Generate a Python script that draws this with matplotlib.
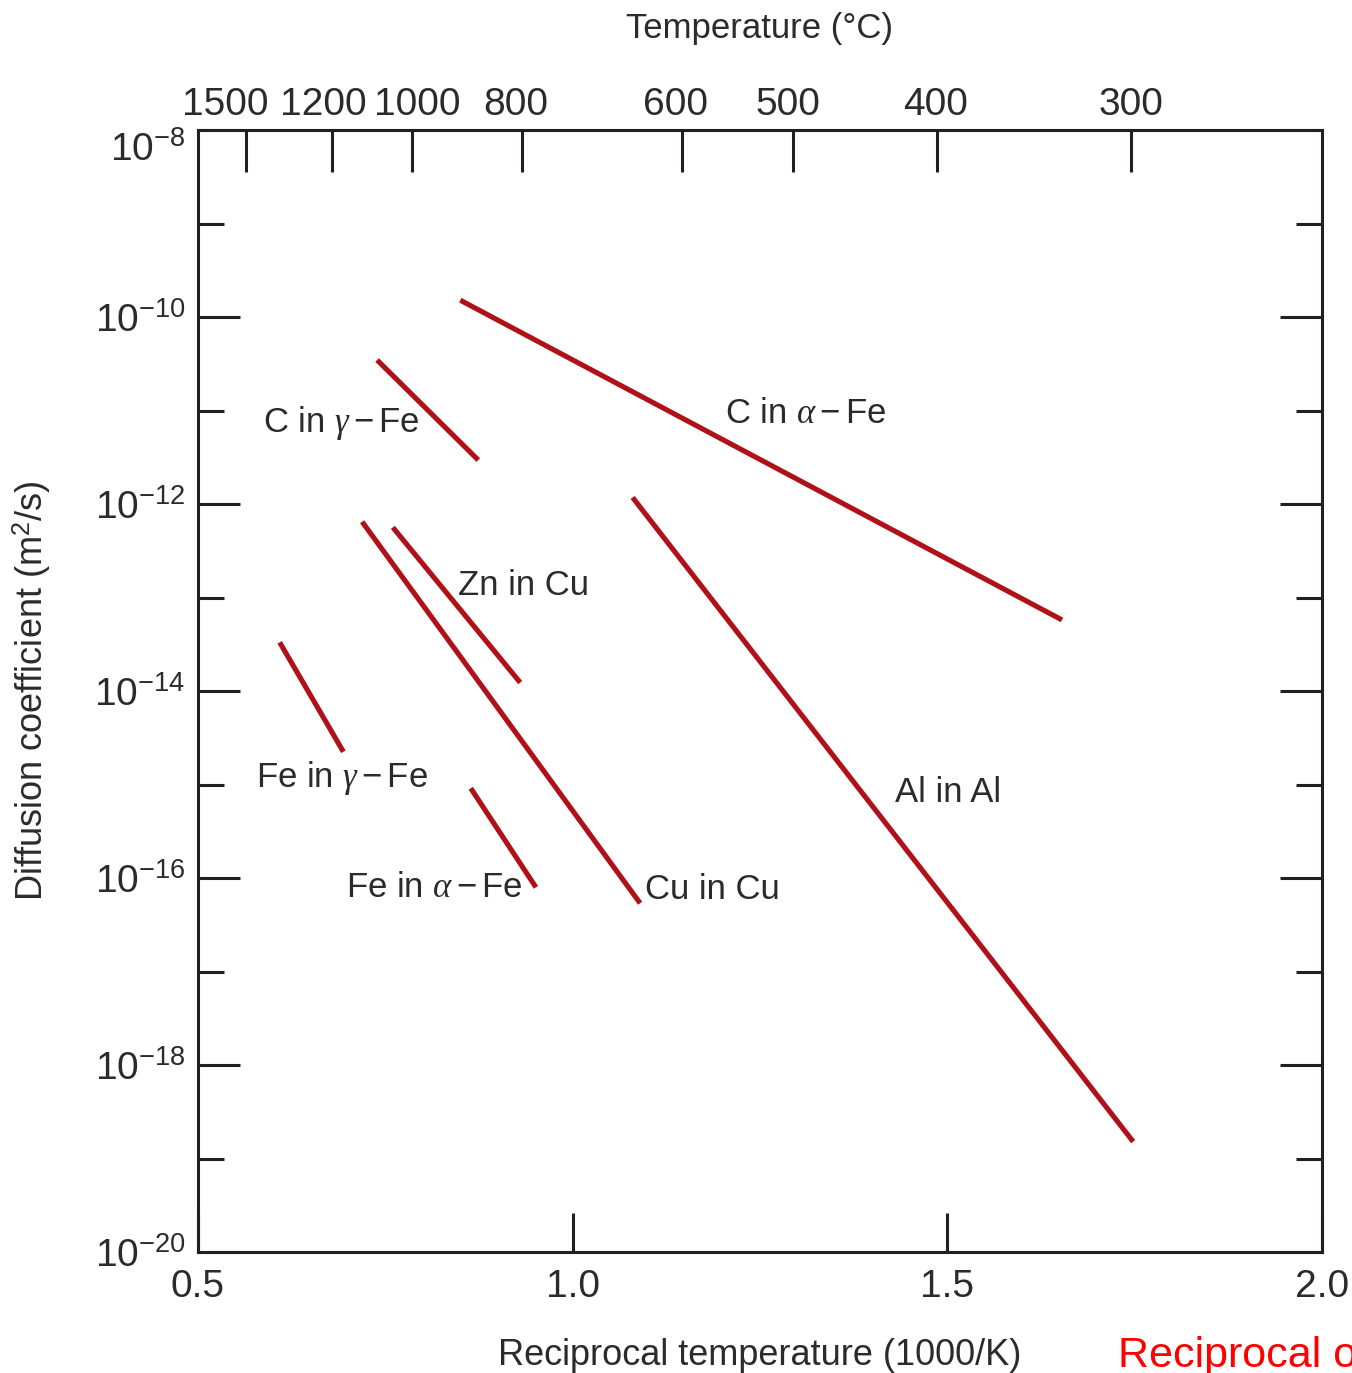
import matplotlib
matplotlib.use('Agg')
import matplotlib.pyplot as plt
from matplotlib.transforms import ScaledTranslation
import numpy as np

plt.rcParams['font.family'] = ['Liberation Sans', 'DejaVu Sans']
plt.rcParams['mathtext.fontset'] = 'custom'
plt.rcParams['mathtext.rm'] = 'Liberation Sans'
plt.rcParams['mathtext.it'] = 'Liberation Serif:italic'
plt.rcParams['mathtext.bf'] = 'Liberation Sans:bold'

# diffusion couples: endpoints in 1000/K and log10(D / m^2 s^-1)
species = [r'C in $\alpha-$Fe', r'C in $\gamma-$Fe', 'Zn in Cu', 'Cu in Cu',
           'Al in Al', r'Fe in $\gamma-$Fe', r'Fe in $\alpha-$Fe']
recip_t_start = [0.850, 0.739, 0.760, 0.719, 1.080, 0.609, 0.864]
recip_t_end = [1.653, 0.874, 0.930, 1.090, 1.748, 0.694, 0.951]
log_d_start = [-9.82, -10.46, -12.25, -12.19, -11.93, -13.48, -15.04]
log_d_end = [-13.24, -11.53, -13.91, -16.27, -18.82, -14.65, -16.10]

# where each label sits (left edge, log10 D at text centre)
label_x = [1.203, 0.587, 0.847, 1.097, 1.430, 0.577, 0.698]
label_logy = [-11.03, -11.13, -12.87, -16.12, -15.09, -14.93, -16.10]

temps_c = [1500, 1200, 1000, 800, 600, 500, 400, 300]
# small sideways nudges (px) so the crowded top labels don't collide
temp_label_dx = [-21, -9, 5, -6, -6, -5, -1, 0]
x_ticks = [0.5, 1.0, 1.5, 2.0]
major_exp = [-8, -10, -12, -14, -16, -18, -20]
minor_exp = [-9, -11, -13, -15, -17, -19]

line_color = '#b01118'
ink = '#2b2b2b'
axis_color = '#231f20'

fig = plt.figure(figsize=(13.52, 13.73), dpi=100)
ax = fig.add_axes([198 / 1352, 1 - 1252 / 1373, 1124 / 1352, 1122 / 1373])

for xs, xe, ds, de in zip(recip_t_start, recip_t_end, log_d_start, log_d_end):
    ax.plot([xs, xe], [10.0 ** ds, 10.0 ** de], color=line_color, lw=3.7,
            solid_capstyle='butt')

ax.set_yscale('log')
ax.set_xlim(0.5, 2.0)
ax.set_ylim(1e-20, 1e-8)

for name, lx, ly in zip(species, label_x, label_logy):
    ax.text(lx, 10.0 ** ly, name, fontsize=25, color=ink, ha='left', va='center')

ax.set_xticks(x_ticks)
ax.set_xticklabels([f'{v:.1f}' for v in x_ticks])
ax.set_yticks([10.0 ** e for e in major_exp])
ax.set_yticklabels([rf'$\mathdefault{{10^{{{e}}}}}$' for e in major_exp])
ax.set_yticks([10.0 ** e for e in minor_exp], minor=True)
ax.set_yticklabels([], minor=True)

ax.tick_params(axis='y', which='major', direction='in', length=30, width=2.2,
               right=True, labelsize=28, labelcolor=ink, color=axis_color, pad=9)
ax.tick_params(axis='y', which='minor', direction='in', length=19, width=2.2,
               right=True, color=axis_color)
ax.tick_params(axis='x', which='major', direction='in', length=28, width=2.2,
               labelsize=28, labelcolor=ink, color=axis_color, pad=12)
ax.tick_params(axis='x', which='minor', bottom=False, top=False)
for sp in ax.spines.values():
    sp.set_linewidth(2.2)
    sp.set_color(axis_color)

# the 10^-8 label sits a little lower, clear of the top axis
top_lab = ax.get_yticklabels()[0]
top_lab.set_transform(top_lab.get_transform() + ScaledTranslation(0, -16 / 100, fig.dpi_scale_trans))

# top axis in degrees Celsius
ax2 = ax.twiny()
ax2.set_xlim(ax.get_xlim())
ax2.set_xticks([1000.0 / (t + 273.0) for t in temps_c])
ax2.set_xticklabels([str(t) for t in temps_c])
ax2.tick_params(axis='x', direction='in', length=30, width=2.2, labelsize=28,
                labelcolor=ink, color=axis_color, pad=5)
ax2.tick_params(axis='x', which='minor', top=False, bottom=False)
for lab, dx in zip(ax2.get_xticklabels(), temp_label_dx):
    lab.set_transform(lab.get_transform() + ScaledTranslation(dx / 100, 0, fig.dpi_scale_trans))
for sp in ax2.spines.values():
    sp.set_visible(False)
ax2.set_xlabel('Temperature (°C)', fontsize=25, color=ink, labelpad=35)

ax.set_xlabel('Reciprocal temperature (1000/K)', fontsize=26, color=ink, labelpad=24)
ax.set_ylabel('Diffusion coefficient (m$^2$/s)', fontsize=26, color=ink, labelpad=30)

fig.text(1118 / 1352, 1 - 1367 / 1373, 'Reciprocal of temperature', fontsize=31,
         color='#ff0000', ha='left', va='baseline')

fig.savefig('out.png', dpi=100)
